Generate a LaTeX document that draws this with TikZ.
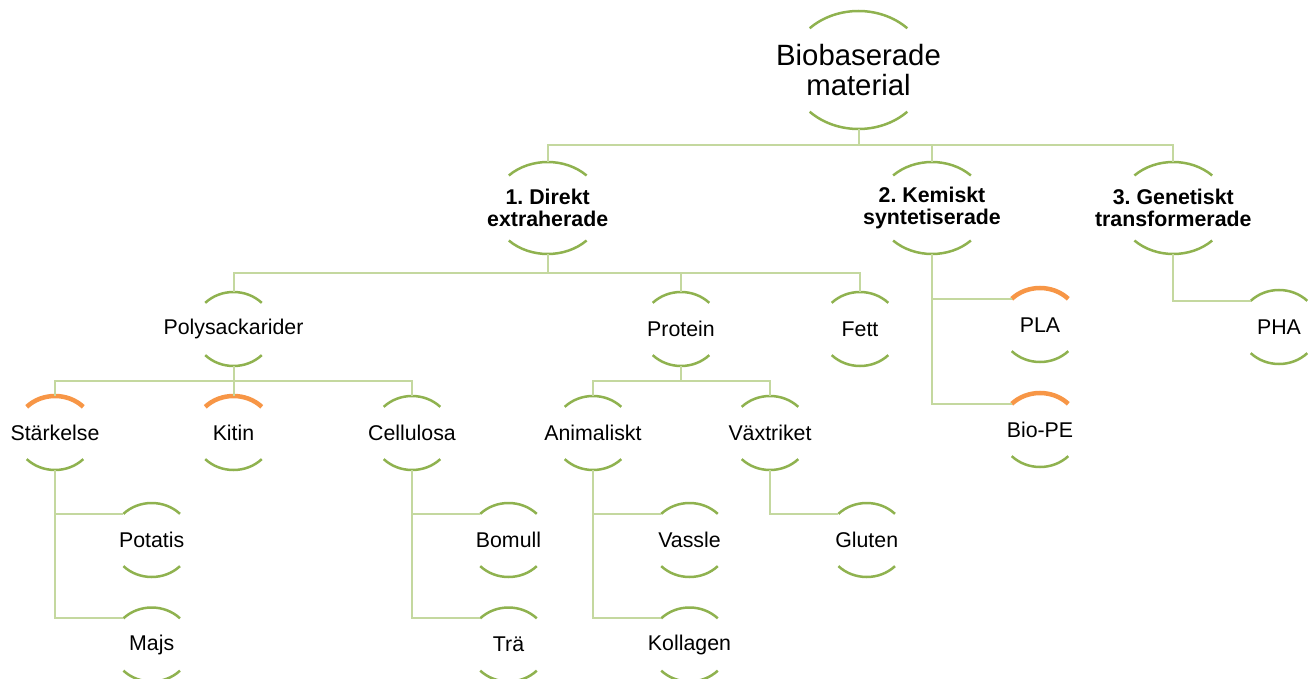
\documentclass[tikz,border=0pt]{standalone}
\usepackage{fontspec}
\setmainfont{Liberation Sans}
\usetikzlibrary{calc}
\frenchspacing
\definecolor{arcgreen}{HTML}{8FB24F}
\definecolor{conngreen}{HTML}{C4D89F}
\definecolor{arcorange}{HTML}{F79646}
\tikzset{
  txts/.style={font=\fontsize{21.33}{22.4}\selectfont, align=center, inner sep=0pt},
  txtb/.style={font=\fontsize{21.33}{22.4}\selectfont\bfseries, align=center, inner sep=0pt},
  txtr/.style={font=\fontsize{29.33}{29.5}\selectfont, align=center, inner sep=0pt},
  arcg/.style={draw=arcgreen, line width=2.5pt},
  arco/.style={draw=arcorange, line width=4.5pt},
  conn/.style={draw=conngreen, line width=2pt}
}
% name, x, y, a, b, text style, text, top arc style
\newcommand\hcnode[8]{%
  \node[#6] (#1) at (#2,-#3) {#7};
  \coordinate (#1-t) at ($(#1.center)+(0,#5pt)$);
  \coordinate (#1-b) at ($(#1.center)-(0,#5pt)$);
  \coordinate (#1-l) at ($(#1.center)+(135:#4pt and #5pt)$);
  \coordinate (#1-bl) at ($(#1.center)+(225:#4pt and #5pt)$);
  \draw[#8] (#1-l) arc[start angle=135, end angle=45, x radius=#4pt, y radius=#5pt];
  \draw[arcg] (#1-bl) arc[start angle=225, end angle=315, x radius=#4pt, y radius=#5pt];
}
\begin{document}
\begin{tikzpicture}[x=1pt, y=1pt]
\useasboundingbox (0,0) rectangle (1312,-679);
\clip (0,0) rectangle (1312,-679);
% nodes
\hcnode{root}{858.5}{70}{69}{59}{txtr}{Biobaserade\\material}{arcg}
\hcnode{dir}{547.7}{208}{55}{46}{txtb}{1. Direkt\\extraherade}{arcg}
\hcnode{kem}{932}{208}{55}{46}{txtb}{2. Kemiskt\\syntetiserade}{arcg}
\hcnode{gen}{1173.3}{208}{55}{46}{txtb}{3. Genetiskt\\transformerade}{arcg}
\hcnode{pol}{233.5}{329}{40}{37}{txts}{Polysackarider}{arcg}
\hcnode{pro}{681}{329}{40}{37}{txts}{Protein}{arcg}
\hcnode{fet}{860}{329}{40}{37}{txts}{Fett}{arcg}
\hcnode{pla}{1040}{325}{40}{37}{txts}{PLA}{arco}
\hcnode{bpe}{1040}{430}{40}{37}{txts}{Bio-PE}{arco}
\hcnode{pha}{1279}{327}{40}{37}{txts}{PHA}{arcg}
\hcnode{sta}{55}{433}{40}{37}{txts}{Stärkelse}{arco}
\hcnode{kit}{233.5}{433}{40}{37}{txts}{Kitin}{arco}
\hcnode{cel}{412}{433}{40}{37}{txts}{Cellulosa}{arcg}
\hcnode{ani}{593}{433}{40}{37}{txts}{Animaliskt}{arcg}
\hcnode{vax}{770}{433}{40}{37}{txts}{Växtriket}{arcg}
\hcnode{pot}{151.7}{540}{40}{37}{txts}{Potatis}{arcg}
\hcnode{maj}{151.7}{644.5}{40}{37}{txts}{Majs}{arcg}
\hcnode{bom}{508.5}{540}{40}{37}{txts}{Bomull}{arcg}
\hcnode{tra}{508.5}{644.5}{40}{37}{txts}{Trä}{arcg}
\hcnode{vas}{689.5}{540}{40}{37}{txts}{Vassle}{arcg}
\hcnode{kol}{689.5}{644.5}{40}{37}{txts}{Kollagen}{arcg}
\hcnode{glu}{866.7}{540}{40}{37}{txts}{Gluten}{arcg}
% bus connectors
\coordinate (rbus) at ($(root-b)!.5!(dir-t)$);
\draw[conn] (root-b) -- (root-b |- rbus) -| (dir-t);
\draw[conn] (root-b |- rbus) -| (kem-t);
\draw[conn] (root-b |- rbus) -| (gen-t);
\coordinate (dbus) at ($(dir-b)!.5!(pol-t)$);
\draw[conn] (dir-b) -- (dir-b |- dbus) -| (pol-t);
\draw[conn] (dir-b |- dbus) -| (pro-t);
\draw[conn] (dir-b |- dbus) -| (fet-t);
\coordinate (pbus) at ($(pol-b)!.5!(sta-t)$);
\draw[conn] (pol-b) -- (pol-b |- pbus) -| (sta-t);
\draw[conn] (pol-b |- pbus) -| (kit-t);
\draw[conn] (pol-b |- pbus) -| (cel-t);
\coordinate (prbus) at ($(pro-b)!.5!(ani-t)$);
\draw[conn] (pro-b) -- (pro-b |- prbus) -| (ani-t);
\draw[conn] (pro-b |- prbus) -| (vax-t);
% side branches
\draw[conn] (sta-b) |- (pot-l);
\draw[conn] (sta-b) |- (maj-l);
\draw[conn] (cel-b) |- (bom-l);
\draw[conn] (cel-b) |- (tra-l);
\draw[conn] (ani-b) |- (vas-l);
\draw[conn] (ani-b) |- (kol-l);
\draw[conn] (vax-b) |- (glu-l);
\draw[conn] (kem-b) |- (pla-l);
\draw[conn] (kem-b) |- (bpe-l);
\draw[conn] (gen-b) |- (pha-l);
\end{tikzpicture}
\end{document}
